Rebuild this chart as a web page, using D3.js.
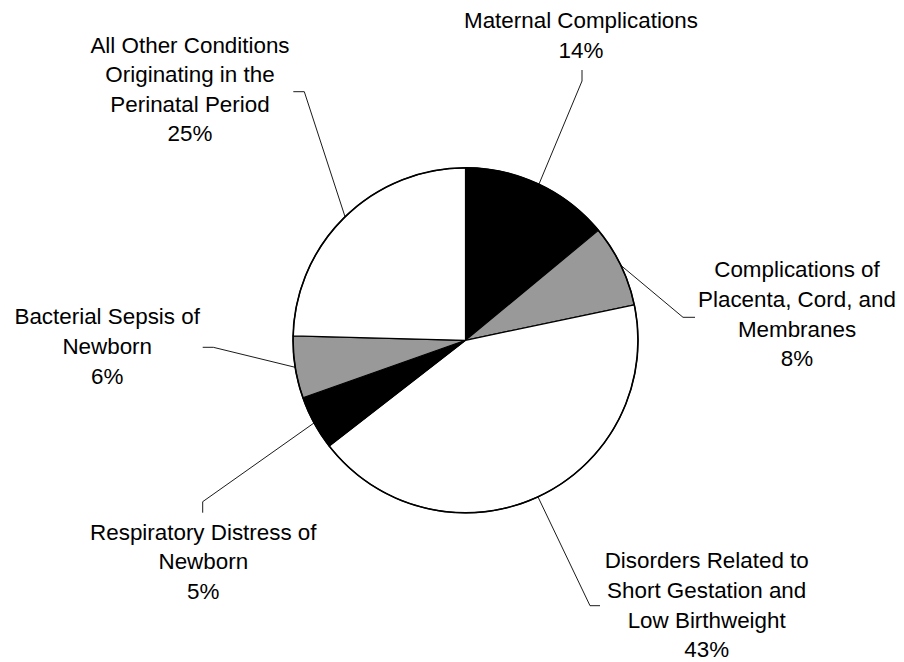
<!DOCTYPE html>
<html>
<head>
<meta charset="utf-8">
<script src="https://cdn.jsdelivr.net/npm/d3@7"></script>
<style>
  html, body { margin: 0; padding: 0; background: #fff; }
  svg { display: block; }
  text { font-family: "Liberation Sans", Arial, sans-serif; font-size: 22.4px; fill: #000; }
</style>
</head>
<body>
<svg id="chart" width="904" height="662"></svg>
<script>
// ---- data ----
const categories = [
  "Maternal Complications",
  "Complications of Placenta, Cord, and Membranes",
  "Disorders Related to Short Gestation and Low Birthweight",
  "Respiratory Distress of Newborn",
  "Bacterial Sepsis of Newborn",
  "All Other Conditions Originating in the Perinatal Period"
];
const values = [14.0, 7.7, 42.8, 5.1, 5.8, 24.6];
const percentLabels = ["14%", "8%", "43%", "5%", "6%", "25%"];
const labelLines = [
  ["Maternal Complications"],
  ["Complications of", "Placenta, Cord, and", "Membranes"],
  ["Disorders Related to", "Short Gestation and", "Low Birthweight"],
  ["Respiratory Distress of", "Newborn"],
  ["Bacterial Sepsis of", "Newborn"],
  ["All Other Conditions", "Originating in the", "Perinatal Period"]
];
const fills = ["#000000", "#999999", "#ffffff", "#000000", "#999999", "#ffffff"];

// ---- layout ----
const cx = 465.5, cy = 340.3, R = 172.5;
// label layout: text centre x, first baseline y, leader elbow and leader end
const labelLayout = [
  { tx: 581, ty: 28.3, elbow: [582, 81], end: [582, 70] },
  { tx: 797, ty: 277.3, elbow: [683, 317.3], end: [695, 317.3] },
  { tx: 706.7, ty: 568.3, elbow: [590, 605.7], end: [600, 605.7] },
  { tx: 203.3, ty: 539.5, elbow: [202.7, 501.7], end: [202.7, 512.7] },
  { tx: 107.2, ty: 324.3, elbow: [213.3, 347.3], end: [202.7, 347.3] },
  { tx: 190, ty: 52.5, elbow: [304.3, 91.7], end: [293.3, 91.7] }
];
const lineHeight = 29.6;

const svg = d3.select("#chart");
const g = svg.append("g").attr("transform", `translate(${cx},${cy})`);

const pie = d3.pie().sort(null).value(d => d.v);
const data = pie(values.map((v, i) => ({ v, i })));
const arc = d3.arc().innerRadius(0).outerRadius(R);

g.selectAll("path.slice")
  .data(data)
  .enter().append("path")
  .attr("class", "slice")
  .attr("d", arc)
  .attr("fill", d => fills[d.data.i])
  .attr("stroke", "#000")
  .attr("stroke-width", 1.2)
  .attr("stroke-linejoin", "round");

g.append("circle")
  .attr("r", R)
  .attr("fill", "none")
  .attr("stroke", "#000")
  .attr("stroke-width", 1.6);

// leader lines
data.forEach(d => {
  const i = d.data.i;
  const a = (d.startAngle + d.endAngle) / 2;
  const sx = cx + R * Math.sin(a), sy = cy - R * Math.cos(a);
  const L = labelLayout[i];
  svg.append("polyline")
    .attr("points", [[sx, sy], L.elbow, L.end].map(p => p.join(",")).join(" "))
    .attr("fill", "none")
    .attr("stroke", "#000")
    .attr("stroke-width", 0.9);
});

// labels
data.forEach(d => {
  const i = d.data.i;
  const L = labelLayout[i];
  const lines = labelLines[i].concat([percentLabels[i]]);
  const t = svg.append("text").attr("text-anchor", "middle");
  lines.forEach((s, k) => {
    t.append("tspan").attr("x", L.tx).attr("y", L.ty + k * lineHeight).text(s);
  });
});
</script>
</body>
</html>
